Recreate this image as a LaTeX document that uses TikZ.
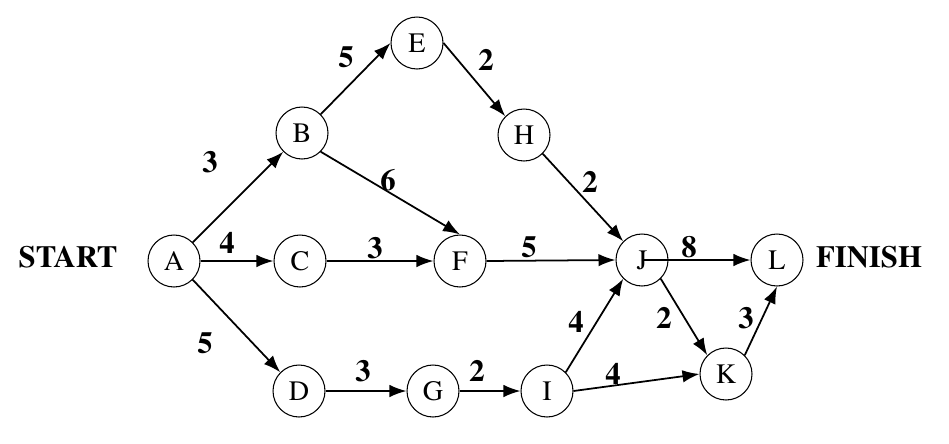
\documentclass[tikz,border=0pt]{standalone}
\usepackage[T1]{fontenc}
\usepackage{times}
\usetikzlibrary{arrows.meta}
\begin{document}
\begin{tikzpicture}[x=0.02cm,y=-0.02cm,
 event/.style={circle,draw,line width=0.6pt,minimum size=1.04cm,inner sep=0pt,font=\fontsize{16}{19}\selectfont},
 act/.style={line width=1pt,-{Latex[length=0.34cm,width=0.25cm]}},
 wt/.style={font=\fontsize{17.5}{20}\selectfont\bfseries,inner sep=0pt}]
 \useasboundingbox (0,0) rectangle (949,443);
 \node[event] (A) at (174,261) {A};
 \node[event] (B) at (302,133) {B};
 \node[event] (C) at (300,261) {C};
 \node[event] (D) at (299,391) {D};
 \node[event] (E) at (417,43) {E};
 \node[event] (F) at (460,261) {F};
 \node[event] (G) at (433,391) {G};
 \node[event] (H) at (524,135) {H};
 \node[event] (I) at (547,391) {I};
 \node[event] (J) at (642,260) {J};
 \node[event] (K) at (726,374) {K};
 \node[event] (L) at (777,260) {L};
 \node[wt] (start) at (68,257) {START};
 \node[wt] (finish) at (869,257) {FINISH};
 \draw[act] (A.north east) -- (B.south west);
 \draw[act] (A.east) -- (C.west);
 \draw[act] (A.south east) -- (D.north west);
 \draw[act] (B.north east) -- (E.west);
 \draw[act] (B.south east) -- (F.north);
 \draw[act] (C.east) -- (F.west);
 \draw[act] (E.east) -- (H.north west);
 \draw[act] (H.south east) -- (J.north west);
 \draw[act] (F.east) -- (J.west);
 \draw[act] (D.east) -- (G.west);
 \draw[act] (G.east) -- (I.west);
 \draw[act] (I.north east) -- (J.south west);
 \draw[act] (I.east) -- (K.west);
 \draw[act] (J.center) -- (L.west);
 \draw[act] (J.south east) -- (K.north west);
 \draw[act] (K.north east) -- (L.south);
 \node[wt] (wAB) at (210,162) {3};
 \node[wt] (wAC) at (227,243) {4};
 \node[wt] (wAD) at (205,343) {5};
 \node[wt] (wBE) at (346,57) {5};
 \node[wt] (wBF) at (388,180) {6};
 \node[wt] (wCF) at (375,248) {3};
 \node[wt] (wEH) at (486,60) {2};
 \node[wt] (wHJ) at (590,182) {2};
 \node[wt] (wFJ) at (529,247) {5};
 \node[wt] (wJL) at (689,247) {8};
 \node[wt] (wJK) at (664,318) {2};
 \node[wt] (wKL) at (746,318) {3};
 \node[wt] (wIJ) at (576,322) {4};
 \node[wt] (wIK) at (613,374) {4};
 \node[wt] (wDG) at (363,371) {3};
 \node[wt] (wGI) at (477,371) {2};
\end{tikzpicture}
\end{document}
